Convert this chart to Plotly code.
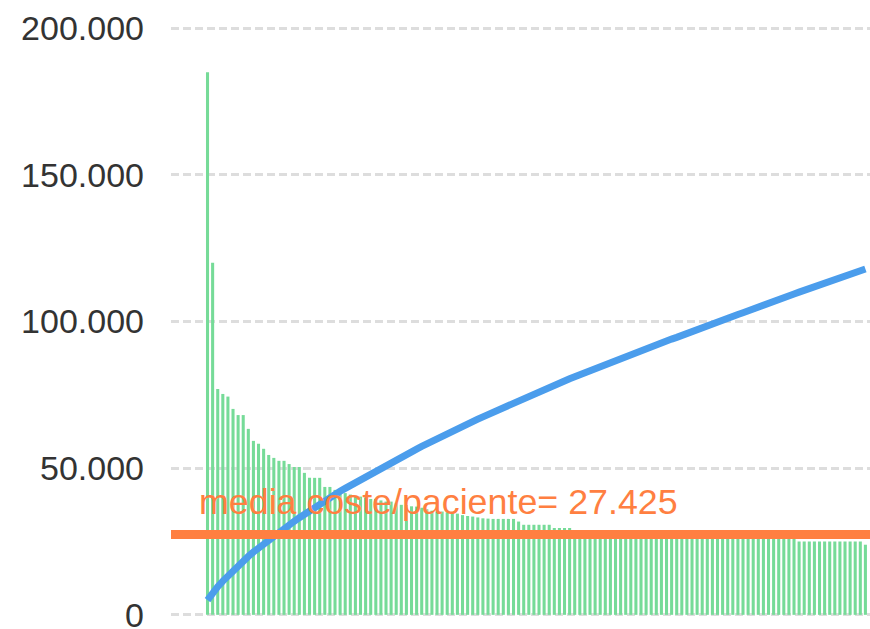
import plotly.graph_objects as go

# Coste por paciente (euros), ordenado de mayor a menor
patient_cost = [
    185000, 120000, 77000, 75300, 74400, 70200, 68100, 68100, 63400, 59300,
    58300, 56600, 54500, 53500, 52500, 52500, 51400, 50400, 50400, 48400,
    46700, 46700, 46700, 43600, 43600, 42600, 42000, 41500, 41000, 40500,
    40300, 40000, 39500, 39500, 39000, 38600, 38600, 38000, 37500, 37500,
    37000, 36900, 36500, 36000, 35500, 35200, 35200, 34900, 34700, 34500,
    34000, 33700, 33500, 33200, 32900, 32800, 32700, 32700, 32700, 32700,
    32700, 31800, 30700, 30700, 30700, 30700, 30700, 30700, 29600, 29600,
    29600, 29600, 28500, 28400, 28300, 28200, 28100, 28000, 28000, 27900,
    27800, 27700, 27600, 27500, 27500, 27400, 27300, 27200, 27100, 27000,
    27000, 26900, 26800, 26800, 26700, 26600, 26600, 26500, 26500, 26400,
    26400, 26300, 26300, 26200, 26200, 26200, 26100, 26100, 26100, 26000,
    26000, 26000, 26000, 25900, 25900, 25900, 25000, 25000, 25000, 25000,
    25000, 25000, 25000, 25000, 25000, 25000, 25000, 25000, 25000, 23900,
]

# Curva acumulada (lectura de la línea azul)
cumulative_curve = [
    5000, 7600, 9600, 11500, 13300, 15000, 16700, 18400, 19900, 21400,
    22800, 24200, 25500, 26800, 28100, 29400, 30600, 31900, 33100, 34300,
    35500, 36700, 37800, 38900, 40000, 41100, 42100, 43100, 44100, 45100,
    46100, 47100, 48100, 49100, 50000, 51000, 51900, 52800, 53800, 54700,
    55600, 56500, 57400, 58300, 59200, 60100, 60900, 61800, 62600, 63500,
    64300, 65100, 65900, 66700, 67500, 68300, 69100, 69900, 70700, 71500,
    72300, 73100, 73900, 74600, 75400, 76100, 76800, 77600, 78300, 79000,
    79800, 80500, 81200, 81900, 82600, 83300, 83900, 84600, 85300, 86000,
    86700, 87300, 88000, 88700, 89400, 90000, 90700, 91300, 92000, 92700,
    93300, 94000, 94600, 95300, 95900, 96600, 97200, 97900, 98500, 99200,
    99800, 100500, 101100, 101700, 102400, 103000, 103700, 104300, 104900, 105600,
    106200, 106800, 107500, 108100, 108700, 109400, 110000, 110600, 111200, 111800,
    112400, 113000, 113600, 114200, 114800, 115500, 116100, 116700, 117300, 117900,
]

mean_cost = 27425
mean_label = "media coste/paciente= 27.425"
y_ticks = [0, 50000, 100000, 150000, 200000]

patients = list(range(len(patient_cost)))

fig = go.Figure()
fig.add_trace(go.Bar(
    x=patients, y=patient_cost,
    marker=dict(color="#76DB98", line=dict(width=0)),
    width=0.6, showlegend=False,
))
fig.add_trace(go.Scatter(
    x=patients, y=cumulative_curve, mode="lines",
    line=dict(color="#4B9DEC", width=7),
    showlegend=False,
))

fig.add_shape(
    type="line", xref="paper", yref="y",
    x0=0, x1=1, y0=mean_cost, y1=mean_cost,
    line=dict(color="#FF7F41", width=9),
)
fig.add_annotation(
    x=-2.0, y=mean_cost, xref="x", yref="y",
    text=mean_label, showarrow=False,
    xanchor="left", yanchor="bottom", yshift=10,
    font=dict(family="Liberation Sans, Arial", size=35.8, color="#FF7F41"),
)

fig.update_layout(
    width=870, height=629,
    margin=dict(l=171, r=0, t=27, b=13, autoexpand=False),
    paper_bgcolor="white", plot_bgcolor="white",
    separators=",.",
    bargap=0.4,
    xaxis=dict(range=[-7.16, 129.9], visible=False),
    yaxis=dict(
        range=[-400, 200400], tickvals=y_ticks, tickformat=",d",
        showgrid=True, gridcolor="#DDDDDD", gridwidth=3, griddash="8px,4px",
        zeroline=False, showline=False, ticks="", automargin=False,
        ticklabelstandoff=26, ticklabeloverflow="allow",
        tickfont=dict(family="Liberation Sans, Arial", size=34, color="#333333"),
    ),
)

fig.write_html(
    "out.html",
    config={"displayModeBar": False},
    post_script="document.body.style.margin='0px';document.body.style.overflow='hidden';",
)
